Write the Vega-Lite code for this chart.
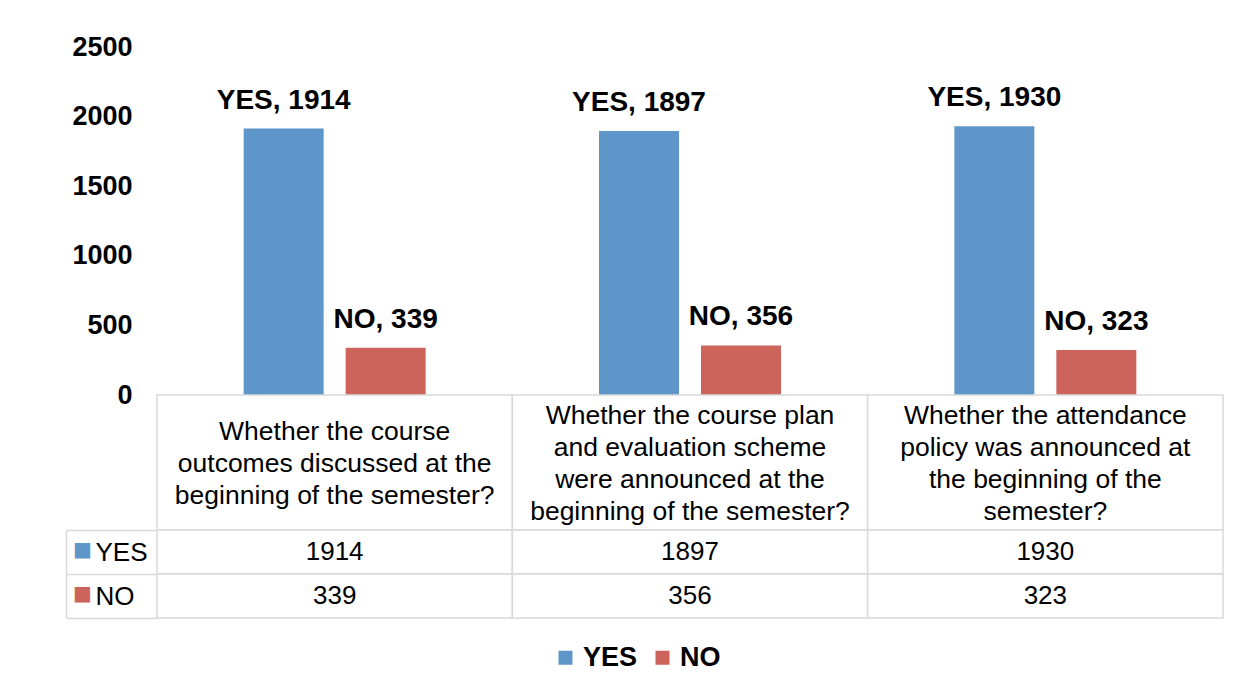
{
  "$schema": "https://vega.github.io/schema/vega-lite/v6.json",
  "padding": {"left": 65, "top": 33, "right": 20, "bottom": 10},
  "background": "white",
  "spacing": 0,
  "bounds": "flush",
  "config": {"view": {"stroke": null}, "font": "Liberation Sans"},
  "datasets": {
    "counts": [
      {"question": "Q1", "series": "YES", "value": 1914},
      {"question": "Q1", "series": "NO", "value": 339},
      {"question": "Q2", "series": "YES", "value": 1897},
      {"question": "Q2", "series": "NO", "value": 356},
      {"question": "Q3", "series": "YES", "value": 1930},
      {"question": "Q3", "series": "NO", "value": 323}
    ],
    "questions": [
      {"question": "Q1", "lines": ["Whether the course", "outcomes discussed at the", "beginning of the semester?"]},
      {"question": "Q2", "lines": ["Whether the course plan", "and evaluation scheme", "were announced at the", "beginning of the semester?"]},
      {"question": "Q3", "lines": ["Whether the attendance", "policy was announced at", "the beginning of the", "semester?"]}
    ]
  },
  "vconcat": [
    {
      "width": 1066,
      "height": 348,
      "data": {"name": "counts"},
      "transform": [{"calculate": "datum.series + ', ' + datum.value", "as": "label"}],
      "encoding": {
        "x": {"field": "question", "type": "nominal", "axis": null, "scale": {"paddingInner": 0, "paddingOuter": 0}},
        "xOffset": {"field": "series", "type": "nominal", "sort": ["YES", "NO"], "scale": {"paddingInner": 0.2157, "paddingOuter": 0.8497}},
        "y": {
          "field": "value", "type": "quantitative",
          "scale": {"domain": [0, 2500]},
          "axis": {"values": [0, 500, 1000, 1500, 2000, 2500], "format": "d", "title": null, "domain": false, "ticks": false, "grid": false, "labelFontSize": 27, "labelFontWeight": "bold", "labelColor": "#000", "labelPadding": 25, "labelFont": "Liberation Sans"}
        }
      },
      "layer": [
        {
          "mark": {"type": "bar"},
          "encoding": {
            "color": {
              "field": "series", "type": "nominal", "sort": ["YES", "NO"],
              "scale": {"domain": ["YES", "NO"], "range": ["#5f96ca", "#cd645c"]},
              "legend": {"orient": "none", "legendX": 395, "legendY": 597, "direction": "horizontal", "title": null, "symbolType": "square", "symbolSize": 196, "symbolStrokeWidth": 0, "labelFontSize": 27, "labelFontWeight": "bold", "labelColor": "#000", "labelFont": "Liberation Sans", "columnPadding": 11, "labelOffset": 4, "padding": 0}
            }
          }
        },
        {
          "mark": {"type": "text", "baseline": "alphabetic", "dy": -20, "fontSize": 28, "fontWeight": "bold", "color": "#000"},
          "encoding": {"text": {"field": "label", "type": "nominal"}}
        }
      ]
    },
    {
      "width": 1066,
      "height": 135,
      "data": {"name": "questions"},
      "encoding": {
        "x": {"field": "question", "type": "nominal", "axis": null, "scale": {"paddingInner": 0, "paddingOuter": 0}},
        "y": {"datum": "header", "type": "nominal", "axis": null, "scale": {"paddingInner": 0, "paddingOuter": 0}}
      },
      "layer": [
        {"mark": {"type": "rect", "fill": "white", "stroke": "#d9d9d9", "strokeWidth": 1.5}},
        {
          "transform": [{"filter": "length(datum.lines) == 3"}],
          "mark": {"type": "text", "fontSize": 26.5, "lineHeight": 32, "baseline": "middle", "dy": -31, "color": "#000"},
          "encoding": {"text": {"field": "lines"}}
        },
        {
          "transform": [{"filter": "length(datum.lines) == 4"}],
          "mark": {"type": "text", "fontSize": 26.5, "lineHeight": 32, "baseline": "middle", "dy": -47, "color": "#000"},
          "encoding": {"text": {"field": "lines"}}
        }
      ]
    },
    {
      "width": 1066,
      "height": 88,
      "data": {"name": "counts"},
      "encoding": {"x": {"field": "question", "type": "nominal", "axis": null, "scale": {"paddingInner": 0, "paddingOuter": 0}}},
      "layer": [
        {
          "mark": {"type": "rect", "fill": "white", "stroke": "#d9d9d9", "strokeWidth": 1.5},
          "encoding": {
            "y": {"field": "series", "type": "nominal", "sort": ["YES", "NO"], "scale": {"paddingInner": 0, "paddingOuter": 0},
              "axis": {"orient": "left", "title": null, "domain": false, "ticks": true, "tickBand": "extent", "tickSize": 91, "tickColor": "#d9d9d9", "tickWidth": 1.5, "labelAlign": "left", "labelPadding": -29, "labelFontSize": 26, "labelColor": "#000", "labelFont": "Liberation Sans"}}
          }
        },
        {
          "mark": {"type": "text", "fontSize": 26, "baseline": "middle", "color": "#000"},
          "encoding": {
            "text": {"field": "value", "type": "quantitative"},
            "y": {"field": "series", "type": "nominal", "sort": ["YES", "NO"],
              "axis": {"orient": "left", "title": null, "offset": 91, "domain": true, "domainColor": "#d9d9d9", "domainWidth": 1.5, "ticks": false, "labelExpr": "'■'", "labelAlign": "center", "labelPadding": -16, "labelFontSize": 20, "labelFont": "DejaVu Sans", "labelOffset": -2, "labelColor": {"expr": "datum.value === 'YES' ? '#5f96ca' : '#cd645c'"}}}
          }
        }
      ],
      "resolve": {"axis": {"y": "independent"}}
    }
  ]
}
